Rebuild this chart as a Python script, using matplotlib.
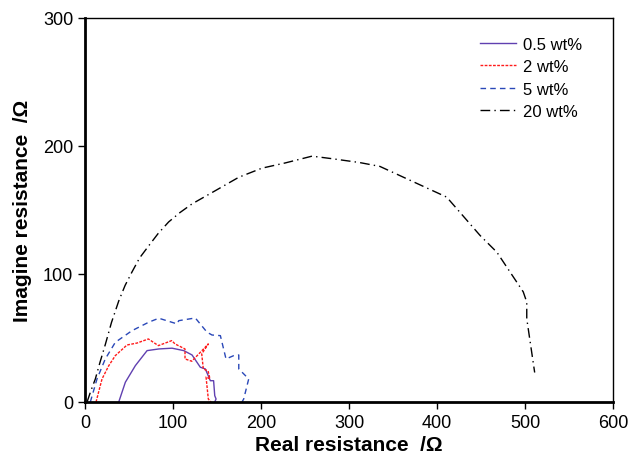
import matplotlib
matplotlib.use("Agg")
import matplotlib.pyplot as plt

plt.rcParams['font.family'] = ['Liberation Sans', 'DejaVu Sans']

x_05 = [38.3, 45.8, 57.2, 70.5, 83.8, 98.9, 112.2, 121.6, 131.0, 136.7, 142.4, 146.1, 147.4, 148.9, 147.4]
y_05 = [0.0, 15.4, 28.4, 40.1, 41.4, 42.0, 40.1, 36.7, 27.1, 25.8, 16.6, 16.6, 4.9, 2.3, 0.0]

x_2 = [12.5, 19.3, 27.0, 34.4, 47.7, 59.0, 72.0, 83.3, 98.5, 102.3, 113.6, 113.6, 121.3, 140.1, 132.6, 134.4, 139.8, 142.0, 137.5, 140.1, 143.2]
y_2 = [0.0, 18.0, 28.4, 36.2, 44.5, 46.0, 49.2, 44.0, 47.9, 45.3, 41.4, 33.6, 31.8, 45.3, 37.5, 25.8, 24.2, 18.0, 19.5, 2.3, 0.0]

x_5 = [6.0, 13.6, 23.0, 34.4, 53.4, 72.4, 83.8, 104.5, 106.5, 125.3, 138.6, 144.3, 153.8, 160.2, 169.0, 174.7, 174.7, 186.0, 180.3, 178.4]
y_5 = [0.0, 18.0, 33.6, 46.6, 55.7, 62.3, 65.4, 61.0, 63.5, 65.6, 54.5, 52.3, 51.8, 33.6, 36.2, 36.7, 25.8, 18.0, 2.3, 0.0]

x_20 = [2.3, 6.5, 11.7, 17.0, 23.0, 30.0, 38.3, 45.5, 53.4, 62.0, 72.4, 83.0, 95.0, 108.0, 121.6, 148.0, 174.7, 201.0, 227.6, 258.0, 280.7, 312.0, 335.0, 411.0, 449.0, 468.0, 498.0, 502.0, 502.0, 511.0]
y_20 = [0.0, 8.5, 18.0, 31.0, 44.8, 62.0, 78.9, 91.0, 101.6, 112.5, 122.0, 131.5, 140.6, 148.0, 154.7, 165.0, 175.5, 182.6, 186.7, 192.0, 190.0, 187.0, 184.0, 160.0, 130.0, 117.0, 86.0, 78.0, 65.0, 23.0]

labels = ['0.5 wt%', '2 wt%', '5 wt%', '20 wt%']

fig = plt.figure(figsize=(6.3, 4.6), dpi=100)
ax = fig.add_axes([0.135, 0.124, 0.838, 0.835])

ax.plot(x_05, y_05, color='#6040b0', lw=1.0, ls='-', label=labels[0])
ax.plot(x_2, y_2, color='#ff1a1a', lw=1.0, ls=(0, (2, 1)), label=labels[1])
ax.plot(x_5, y_5, color='#2a48b8', lw=1.0, ls=(0, (4, 3)), label=labels[2])
ax.plot(x_20, y_20, color='black', lw=1.0, ls=(0, (7, 3, 1, 3)), label=labels[3])

ax.set_xlim(0, 600)
ax.set_ylim(0, 300)
ax.set_xticks([0, 100, 200, 300, 400, 500, 600])
ax.set_yticks([0, 100, 200, 300])
ax.tick_params(direction='out', length=5, width=1, labelsize=13, colors='black')

for s in ['left', 'bottom']:
    ax.spines[s].set_linewidth(2)
for s in ['top', 'right']:
    ax.spines[s].set_linewidth(1)

ax.set_xlabel('Real resistance  /Ω', fontsize=15, fontweight='bold', labelpad=3)
ax.set_ylabel('Imagine resistance  /Ω', fontsize=15, fontweight='bold', labelpad=8)

ax.legend(loc='upper right', frameon=False, fontsize=12, handlelength=2.2,
          handletextpad=0.4, labelspacing=0.45, bbox_to_anchor=(0.97, 0.99))

fig.savefig('out.png', dpi=100)
